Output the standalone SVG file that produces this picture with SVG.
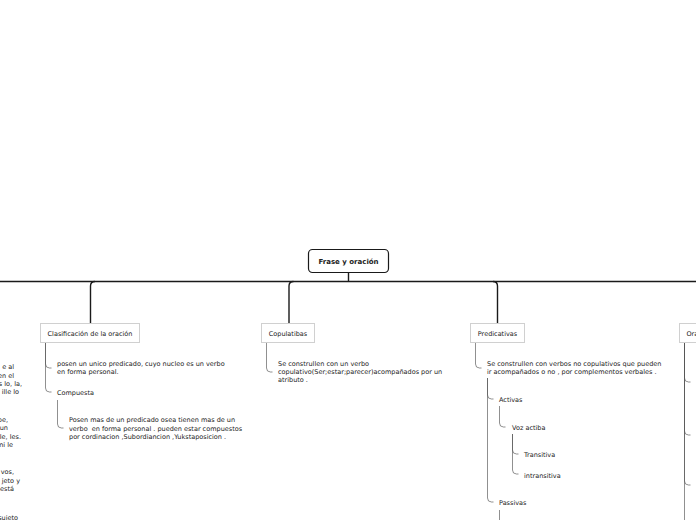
<svg xmlns="http://www.w3.org/2000/svg" width="696" height="520" viewBox="0 0 696 520">
<style>
text{font-family:"DejaVu Sans","Liberation Sans",sans-serif;font-size:6.5px;fill:#222}
.root{font-weight:bold;font-size:7px;text-anchor:middle}
.lbl{text-anchor:middle}
.box{fill:#fff;stroke:#d0d0d0;stroke-width:1}
.main{fill:none;stroke:#1a1a1a;stroke-width:1.4}
.sub{fill:none;stroke:#555;stroke-opacity:0.65;stroke-width:1}
.cut{text-anchor:end}
</style>
<rect width="696" height="520" fill="#fff"/>
<g id="connectors">
<path class="main" d="M348.5 273 V281.5 M0 281.5 H696"/>
<path class="main" d="M90.5 323 V286 Q90.5 281.5 95 281.5"/>
<path class="main" d="M289 323 V286 Q289 281.5 293.5 281.5"/>
<path class="main" d="M497.5 323 V286 Q497.5 281.5 493 281.5"/>
<path class="sub" d="M45.5 342 V364 Q45.5 368 49.5 368 H51.5"/>
<path class="sub" d="M45.5 342 V388 Q45.5 392 49.5 392 H51.5"/>
<path class="sub" d="M57.5 400 V424 Q57.5 428 61.5 428 H63.5"/>
<path class="sub" d="M266.5 342 V368 Q266.5 372 270.5 372 H272.5"/>
<path class="sub" d="M475.5 342 V364 Q475.5 368 479.5 368 H481.5"/>
<path class="sub" d="M487.5 378 V395 Q487.5 399 491.5 399 H493.5"/>
<path class="sub" d="M487.5 378 V498 Q487.5 502 491.5 502 H493.5"/>
<path class="sub" d="M499.5 406 V423 Q499.5 427 503.5 427 H505.5"/>
<path class="sub" d="M512.5 434 V450 Q512.5 454 516.5 454 H518.5"/>
<path class="sub" d="M512.5 434 V470 Q512.5 474 516.5 474 H518.5"/>
<path class="sub" d="M499.5 510 V520"/>
<path class="sub" d="M684.5 342 V378 Q684.5 382 688.5 382 H690.5"/>
<path class="sub" d="M684.5 342 V431 Q684.5 435 688.5 435 H690.5"/>
<path class="sub" d="M684.5 342 V481 Q684.5 485 688.5 485 H690.5"/>
<path class="sub" d="M684.5 342 V520"/>
</g>
<g id="root">
<rect x="308.5" y="249.5" width="80" height="23" rx="4" fill="#fff" stroke="#1a1a1a" stroke-width="1.2"/>
<text class="root" x="348.5" y="263.5">Frase y oración</text>
</g>
<g id="clasificacion">
<rect class="box" x="40.5" y="323.5" width="99" height="19"/>
<text class="lbl" x="90" y="335.5">Clasificación de la oración</text>
</g>
<g id="simple">
<text x="57" y="366">posen un unico predicado, cuyo nucleo es un verbo</text>
<text x="57" y="374">en forma personal.</text>
</g>
<g id="compuesta"><text x="57" y="395">Compuesta</text></g>
<g id="compuesta-desc">
<text x="69" y="422">Posen mas de un predicado osea tienen mas de un</text>
<text x="69" y="430.5" xml:space="preserve">verbo  en forma personal . pueden estar compuestos</text>
<text x="69" y="439">por cordinacion ,Subordiancion ,Yukstaposicion .</text>
</g>
<g id="copulatibas">
<rect class="box" x="261.5" y="323.5" width="53" height="19"/>
<text class="lbl" x="288" y="335.5">Copulatibas</text>
</g>
<g id="copulatibas-desc">
<text x="278" y="366">Se construllen con un verbo</text>
<text x="278" y="374">copulativo(Ser;estar;parecer)acompañados por un</text>
<text x="278" y="382">atributo .</text>
</g>
<g id="predicativas">
<rect class="box" x="470.5" y="323.5" width="54" height="19"/>
<text class="lbl" x="497.5" y="335.5">Predicativas</text>
</g>
<g id="predicativas-desc">
<text x="487" y="366">Se construllen con verbos no copulativos que pueden</text>
<text x="487" y="374">ir acompañados o no , por complementos verbales .</text>
</g>
<g id="activas"><text x="499" y="402">Activas</text></g>
<g id="voz-actiba"><text x="512" y="430">Voz actiba</text></g>
<g id="transitiva"><text x="524" y="457">Transitiva</text></g>
<g id="intransitiva"><text x="524" y="477.5">intransitiva</text></g>
<g id="passivas"><text x="499" y="505">Passivas</text></g>
<g id="oraciones">
<rect class="box" x="679.5" y="323.5" width="40" height="19"/>
<text x="686.5" y="335.5">Ora</text>
</g>
<g id="left-texts">
<text class="cut" x="14" y="369">e al</text>
<text class="cut" x="14" y="377.5">en el</text>
<text class="cut" x="22" y="385.5">s lo, la,</text>
<text class="cut" x="19" y="394">ille lo</text>
<text class="cut" x="8" y="421.5">be,</text>
<text class="cut" x="8" y="430">un</text>
<text class="cut" x="21" y="438.5">le, les.</text>
<text class="cut" x="13" y="447">ni le</text>
<text class="cut" x="14" y="474">vos,</text>
<text class="cut" x="20" y="482.5">jeto y</text>
<text class="cut" x="14" y="491">está</text>
<text class="cut" x="18" y="520">sujeto</text>
</g>
</svg>
